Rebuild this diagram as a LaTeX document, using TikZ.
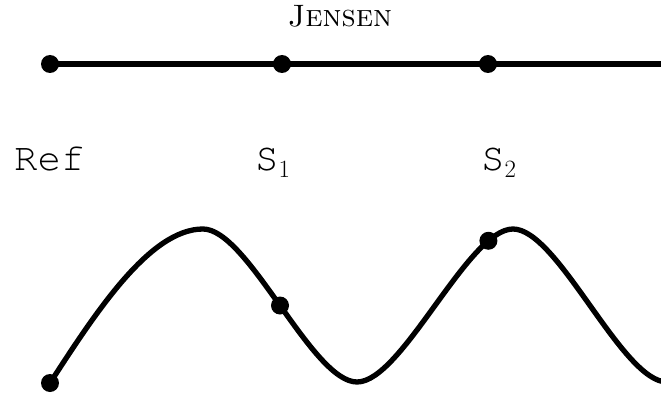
\documentclass[tikz,border=0pt]{standalone}
\usepackage{fontspec}
\newfontfamily\refmono{TeX Gyre Cursor}
\begin{document}
\begin{tikzpicture}[x=1pt,y=-1pt,
  dot/.style={circle,fill=black,inner sep=0pt,minimum size=18pt},
  lbl/.style={font=\fontsize{39}{42}\selectfont\refmono,anchor=base west,inner sep=0pt},
  thick line/.style={line width=5.3pt}]
\useasboundingbox (0,0) rectangle (661,396);
\clip (0,0) rectangle (661,396);
\node[font=\fontsize{31}{34}\selectfont,anchor=base,inner sep=0pt] (title) at (340,27) {\textsc{Jensen}};
\coordinate (lend) at (668,64);
\node[dot] (a) at (50,64) {};
\node[dot] (b) at (282,64) {};
\node[dot] (c) at (488,64) {};
\draw[thick line] (a.center) -- (b.center) -- (c.center) -- (lend);
\node[lbl] (ref) at (14,170) {Ref};
\node[lbl] (s1) at (255,170) {S$_1$};
\node[lbl] (s2) at (481,170) {S$_2$};
\coordinate (w0) at (50,383);
\coordinate (w1) at (203,229);
\coordinate (w2) at (357,382);
\coordinate (w3) at (513,229);
\coordinate (w4) at (667,382);
\draw[thick line] (w0) .. controls (96,312) and (150,229) .. (w1)
  .. controls (248,229) and (312,382) .. node[pos=0.5,dot] (p1) {} (w2)
  .. controls (402,382) and (468,229) .. node[pos=0.83,dot] (p2) {} (w3)
  .. controls (558,229) and (622,382) .. (w4);
\node[dot] (p0) at (w0) {};
\end{tikzpicture}
\end{document}
